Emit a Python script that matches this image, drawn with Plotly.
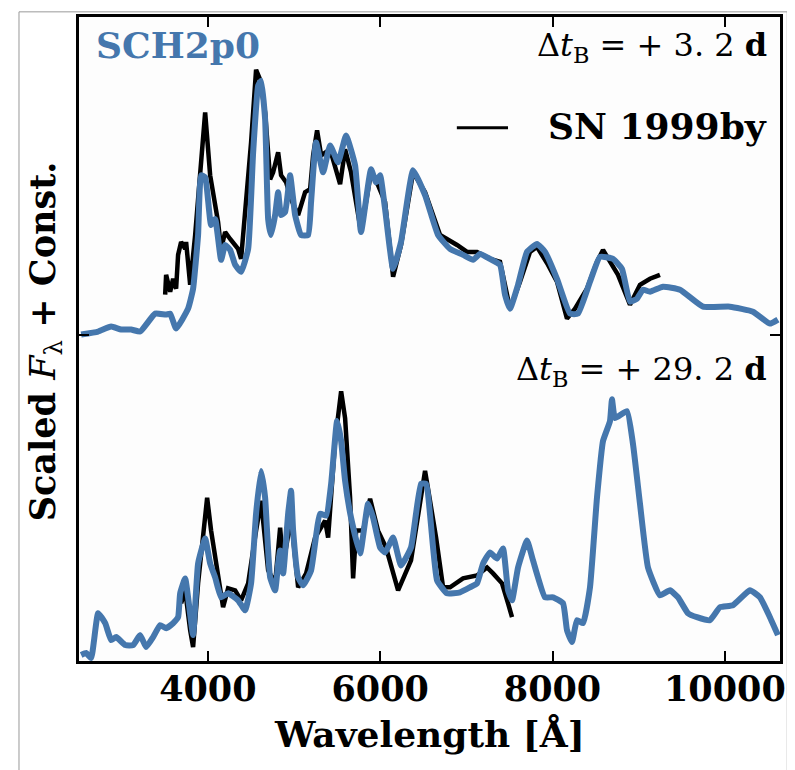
import plotly.graph_objects as go

# ---------------- data ----------------
# Top panel (Delta t_B = +3.2 d)
top_model_wave = [2530, 2727, 2878, 2994, 3110, 3215, 3389, 3516, 3563, 3632, 3771, 3829, 3887, 3922, 3969,
                  4038, 4085, 4154, 4201, 4259, 4317, 4386, 4468, 4526, 4584, 4618, 4665, 4700, 4734, 4781,
                  4816, 4850, 4897, 4955, 5013, 5082, 5164, 5198, 5256, 5338, 5419, 5512, 5604, 5709, 5778,
                  5894, 5952, 5999, 6057, 6150, 6242, 6382, 6521, 6672, 6811, 6962, 7078, 7159, 7275, 7391,
                  7449, 7507, 7600, 7704, 7820, 7913, 8052, 8203, 8296, 8435, 8551, 8702, 8806, 8899, 8980,
                  9050, 9131, 9282, 9479, 9746, 10059, 10326, 10523, 10616]
top_model_flux = [0.00, 0.03, 0.08, 0.05, 0.05, 0.03, 0.21, 0.20, 0.21, 0.06, 0.26, 0.46, 1.00, 1.60, 1.58,
                  1.10, 1.16, 0.75, 0.90, 0.85, 0.70, 0.63, 0.86, 1.83, 2.50, 2.55, 2.16, 1.16, 1.00, 1.20,
                  1.43, 1.20, 1.23, 1.60, 1.20, 1.00, 1.00, 1.33, 1.93, 1.63, 1.90, 1.73, 2.00, 1.70, 1.03,
                  1.66, 1.53, 1.60, 1.26, 0.66, 0.93, 1.65, 1.40, 1.00, 0.86, 0.80, 0.75, 0.81, 0.76, 0.70,
                  0.40, 0.26, 0.50, 0.83, 0.91, 0.83, 0.56, 0.21, 0.21, 0.53, 0.78, 0.76, 0.66, 0.33, 0.36,
                  0.45, 0.43, 0.48, 0.45, 0.28, 0.28, 0.23, 0.11, 0.15]

top_obs_wave = [3505, 3516, 3563, 3597, 3632, 3655, 3690, 3737, 3748, 3795, 3853, 3911, 3969, 4027, 4061,
                4119, 4154, 4201, 4259, 4351, 4386, 4444, 4502, 4560, 4607, 4665, 4723, 4758, 4816, 4850,
                4908, 4966, 5048, 5129, 5187, 5222, 5268, 5315, 5419, 5535, 5593, 5662, 5778, 5894, 5975,
                6057, 6150, 6242, 6382, 6521, 6649, 6695, 6892, 7008, 7124, 7275, 7391, 7507, 7623, 7739,
                7820, 7948, 8052, 8168, 8261, 8400, 8516, 8586, 8690, 8760, 8899, 9015, 9131, 9247]
top_obs_flux = [0.40, 0.60, 0.43, 0.56, 0.46, 0.80, 0.93, 0.86, 0.93, 0.50, 1.00, 1.66, 2.23, 1.60, 1.43,
                1.13, 0.86, 1.03, 0.96, 0.86, 0.76, 1.33, 1.93, 2.66, 2.56, 2.23, 1.56, 1.63, 1.83, 1.60,
                1.53, 1.36, 1.20, 1.43, 1.46, 1.80, 2.05, 1.80, 1.86, 1.51, 1.86, 1.63, 1.03, 1.63, 1.50,
                1.33, 0.58, 0.90, 1.63, 1.43, 1.10, 1.00, 0.90, 0.83, 0.83, 0.76, 0.73, 0.26, 0.53, 0.83,
                0.88, 0.70, 0.53, 0.16, 0.26, 0.46, 0.73, 0.85, 0.70, 0.60, 0.30, 0.50, 0.56, 0.60]

# Bottom panel (Delta t_B = +29.2 d)
bot_model_wave = [2530, 2588, 2646, 2727, 2809, 2878, 2936, 3041, 3133, 3215, 3284, 3365, 3447, 3516, 3597,
                  3655, 3679, 3737, 3771, 3829, 3887, 3969, 4027, 4085, 4154, 4235, 4351, 4433, 4502, 4560,
                  4618, 4665, 4723, 4781, 4816, 4839, 4874, 4932, 4966, 4990, 5048, 5106, 5198, 5303, 5373,
                  5431, 5500, 5547, 5593, 5662, 5767, 5860, 5918, 5999, 6057, 6150, 6242, 6358, 6474, 6532,
                  6660, 6776, 6927, 7043, 7124, 7194, 7275, 7356, 7426, 7484, 7530, 7600, 7704, 7774, 7913,
                  8006, 8122, 8168, 8226, 8284, 8354, 8435, 8516, 8586, 8667, 8690, 8725, 8864, 8934, 9015,
                  9108, 9247, 9363, 9456, 9572, 9676, 9827, 9943, 10094, 10291, 10407, 10523, 10616]
bot_model_flux = [0.06, 0.08, 0.03, 0.48, 0.38, 0.21, 0.24, 0.16, 0.16, 0.26, 0.14, 0.24, 0.36, 0.33, 0.38,
                  0.44, 0.68, 0.83, 0.64, 0.26, 0.98, 1.23, 0.98, 0.84, 0.64, 0.68, 0.61, 0.51, 0.78, 1.48,
                  1.91, 1.64, 0.84, 0.71, 0.98, 1.11, 0.88, 1.48, 1.71, 1.31, 0.84, 0.76, 0.91, 1.48, 1.46,
                  1.78, 2.41, 2.21, 1.81, 1.44, 1.08, 1.58, 1.44, 1.14, 1.09, 1.24, 0.96, 1.14, 1.78, 1.78,
                  0.81, 0.68, 0.69, 0.74, 0.78, 0.98, 1.09, 1.03, 1.13, 0.71, 0.61, 0.94, 1.21, 1.01, 0.64,
                  0.64, 0.58, 0.31, 0.19, 0.41, 0.38, 0.74, 1.64, 2.21, 2.41, 2.63, 2.44, 2.51, 2.18, 1.58,
                  0.94, 0.66, 0.71, 0.64, 0.48, 0.44, 0.41, 0.54, 0.56, 0.71, 0.64, 0.44, 0.26]

bot_obs_wave = [3690, 3737, 3795, 3829, 3887, 3945, 3992, 4038, 4096, 4177, 4235, 4317, 4386, 4468, 4560,
                4618, 4700, 4781, 4839, 4874, 4908, 4966, 5048, 5141, 5245, 5361, 5396, 5477, 5547, 5593,
                5651, 5686, 5721, 5802, 5883, 5975, 6068, 6150, 6208, 6358, 6521, 6649, 6730, 6811, 6962,
                7124, 7240, 7310, 7414, 7484, 7530]
bot_obs_flux = [0.58, 0.71, 0.31, 0.14, 0.78, 1.31, 1.64, 1.31, 0.98, 0.54, 0.73, 0.71, 0.61, 0.78, 1.31,
                1.61, 0.91, 0.78, 1.34, 0.98, 1.14, 1.44, 0.74, 0.88, 1.24, 1.41, 1.24, 2.21, 2.71, 2.44,
                1.64, 0.83, 1.31, 1.31, 1.63, 1.31, 1.14, 0.91, 0.71, 1.01, 1.91, 1.24, 0.74, 0.74, 0.83,
                0.86, 0.94, 0.88, 0.78, 0.58, 0.44]

top_const = 3.28          # vertical offset of the upper spectrum
x_ticks = [4000, 6000, 8000, 10000]
x_range = [2505, 10640]
y_range = [0, 6.47]

model_color = "#4577ad"
obs_color = "#000000"
serif = "DejaVu Serif"

fig = go.Figure()

fig.add_trace(go.Scatter(x=top_obs_wave, y=[v + top_const for v in top_obs_flux], mode="lines",
                         line=dict(color=obs_color, width=4.5), showlegend=False))
fig.add_trace(go.Scatter(x=bot_obs_wave, y=bot_obs_flux, mode="lines",
                         line=dict(color=obs_color, width=4.5), showlegend=False))
fig.add_trace(go.Scatter(x=top_model_wave, y=[v + top_const for v in top_model_flux], mode="lines",
                         line=dict(color=model_color, width=6, shape="spline", smoothing=0.4),
                         showlegend=False))
fig.add_trace(go.Scatter(x=bot_model_wave, y=bot_model_flux, mode="lines",
                         line=dict(color=model_color, width=6, shape="spline", smoothing=0.4),
                         showlegend=False))

fig.update_xaxes(range=x_range, tickvals=x_ticks, ticktext=[str(t) for t in x_ticks],
                 ticks="inside", ticklen=10, tickwidth=2, tickcolor="black",
                 showline=True, linewidth=3, linecolor="black", mirror="ticks",
                 showgrid=False, zeroline=False, ticklabelstandoff=-5,
                 tickfont=dict(family=serif, size=35, color="black", weight="bold"))
fig.update_yaxes(range=y_range, tickvals=[top_const], showticklabels=False,
                 ticks="inside", ticklen=10, tickwidth=2, tickcolor="black",
                 showline=True, linewidth=3, linecolor="black", mirror="ticks",
                 showgrid=False, zeroline=False)

annotations = [
    dict(text="<b>SCH2p0</b>", x=0.022, y=0.957, xref="paper", yref="paper",
         xanchor="left", yanchor="middle", showarrow=False,
         font=dict(family=serif, size=36, color=model_color)),
    dict(text="Δ<i>t</i><sub>B</sub> = + 3. 2 <b>d</b>", x=0.985, y=0.953, xref="paper", yref="paper",
         xanchor="right", yanchor="middle", showarrow=False,
         font=dict(family=serif, size=32, color="black")),
    dict(text="Δ<i>t</i><sub>B</sub> = + 29. 2 <b>d</b>", x=0.985, y=0.45, xref="paper", yref="paper",
         xanchor="right", yanchor="middle", showarrow=False,
         font=dict(family=serif, size=32, color="black")),
    dict(text="<b>SN 1999by</b>", x=0.985, y=0.83, xref="paper", yref="paper",
         xanchor="right", yanchor="middle", showarrow=False,
         font=dict(family=serif, size=36, color="black")),
    dict(text="<b>Wavelength [Å]</b>", x=0.5, y=-0.113, xref="paper", yref="paper",
         xanchor="center", yanchor="middle", showarrow=False,
         font=dict(family=serif, size=36, color="black")),
    dict(text="<b>Scaled </b><i>F</i><sub>λ</sub><b> + Const.</b>", x=-0.049, y=0.496,
         xref="paper", yref="paper", xanchor="center", yanchor="middle", textangle=-90,
         showarrow=False, font=dict(family=serif, size=35, color="black")),
]

shapes = [
    # legend sample line
    dict(type="line", xref="paper", yref="paper", x0=0.539, x1=0.612, y0=0.828, y1=0.828,
         line=dict(color="black", width=3)),
    # figure frame
    dict(type="rect", xref="paper", yref="paper", x0=-0.0856, x1=1.0104, y0=-0.2, y1=1.008,
         line=dict(color="#999999", width=1), layer="below"),
]

# page body has an 8px margin: figure is sized so that it fits exactly in the window
fig.update_layout(width=787, height=762, margin=dict(l=71, r=15, t=6, b=109),
                  paper_bgcolor="white", plot_bgcolor="#fdfdfd",
                  annotations=annotations, shapes=shapes, showlegend=False)

fig.write_html("out.html")
